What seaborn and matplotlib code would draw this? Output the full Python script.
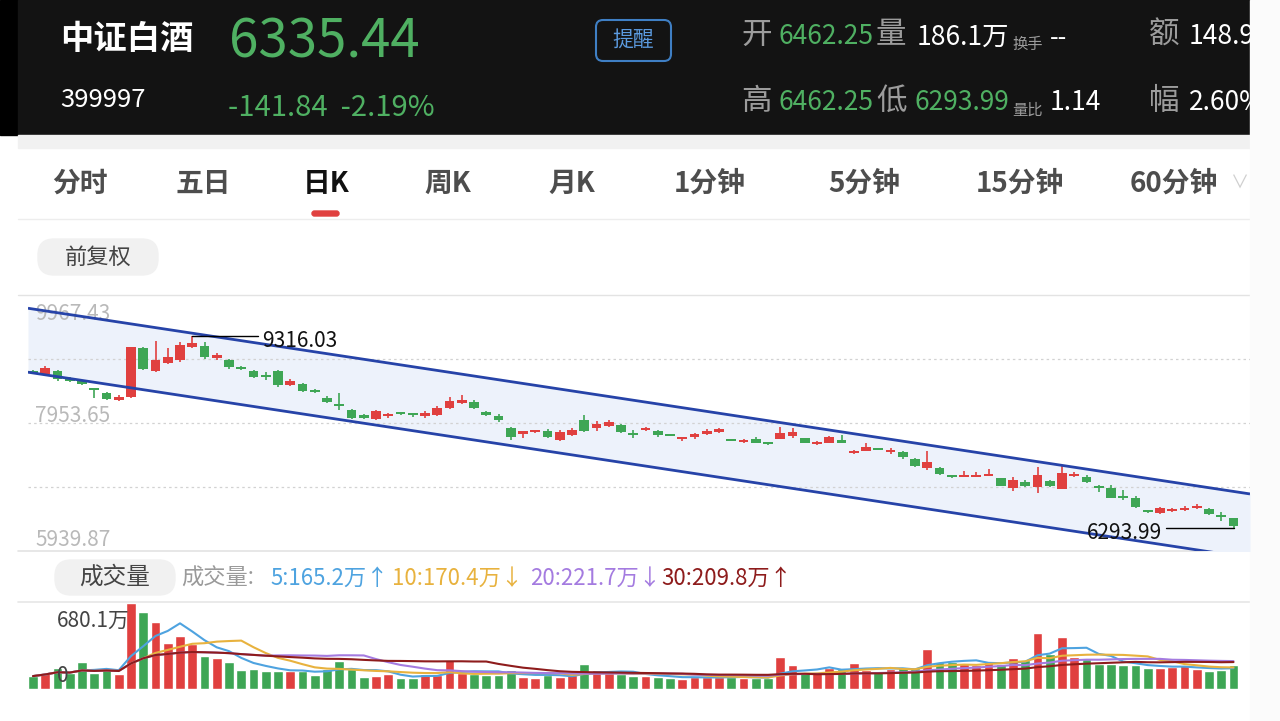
import numpy as np
import pandas as pd
import matplotlib
matplotlib.use("Agg")
import matplotlib.pyplot as plt
import seaborn as sns
from matplotlib.patches import Rectangle, FancyBboxPatch

# ---------------- data ----------------
opens = [8772, 8725, 8772, 8662, 8614, 8504, 8426, 8315, 8363, 9134,
         8772, 8898, 8945, 9149, 9165, 8976, 8945, 8835, 8772, 8709,
         8772, 8551, 8567, 8473, 8347, 8252, 8158, 8079, 8016, 8064,
         8127, 8111, 8064, 8079, 8189, 8268, 8284, 8127, 8064, 7875,
         7797, 7812, 7828, 7686, 7765, 8001, 7875, 7906, 7922, 7797,
         7844, 7828, 7781, 7702, 7733, 7781, 7812, 7702, 7655, 7702,
         7655, 7702, 7749, 7718, 7623, 7639, 7686, 7482, 7513, 7560,
         7498, 7498, 7387, 7246, 7246, 7135, 7104, 7104, 7120, 7088,
         6931, 7025, 6947, 7041, 6915, 7120, 7104, 6962, 6931, 6805,
         6774, 6585, 6538, 6569, 6585, 6617, 6601, 6507, 6462.25]
highs = [8788, 8850, 8788, 8678, 8630, 8504, 8441, 8394, 9149, 9149,
         9244, 9134, 9228, 9316.03, 9228, 9055, 8960, 8850, 8788, 8756,
         8788, 8646, 8583, 8488, 8378, 8426, 8174, 8095, 8158, 8111,
         8127, 8111, 8142, 8221, 8363, 8394, 8315, 8142, 8095, 7891,
         7812, 7844, 7859, 7844, 7875, 8079, 7985, 8001, 7938, 7844,
         7891, 7844, 7781, 7733, 7797, 7859, 7875, 7702, 7702, 7733,
         7655, 7891, 7875, 7718, 7670, 7749, 7765, 7529, 7639, 7560,
         7560, 7513, 7403, 7513, 7261, 7135, 7198, 7183, 7230, 7088,
         7104, 7057, 7261, 7057, 7293, 7183, 7135, 6978, 6978, 6900,
         6805, 6585, 6632, 6617, 6648, 6679, 6617, 6554, 6462.25]
lows = [8725, 8693, 8614, 8599, 8551, 8347, 8315, 8300, 8347, 8788,
        8756, 8882, 8913, 9134, 8960, 8945, 8803, 8788, 8662, 8630,
        8520, 8536, 8441, 8426, 8268, 8158, 8016, 8016, 8001, 8032,
        8079, 8048, 8032, 8064, 8174, 8252, 8174, 8064, 7969, 7686,
        7718, 7797, 7718, 7670, 7749, 7812, 7828, 7891, 7797, 7718,
        7828, 7733, 7749, 7670, 7702, 7765, 7797, 7670, 7639, 7639,
        7607, 7702, 7718, 7639, 7607, 7639, 7639, 7466, 7513, 7529,
        7466, 7387, 7261, 7214, 7135, 7088, 7104, 7104, 7120, 6962,
        6884, 6947, 6852, 6947, 6915, 7104, 7010, 6868, 6774, 6742,
        6617, 6538, 6522, 6554, 6569, 6601, 6507, 6412, 6293.99]
closes = [8741, 8819, 8646, 8614, 8567, 8473, 8331, 8363, 9149, 8803,
          8945, 8992, 9181, 9212, 8992, 9023, 8835, 8803, 8678, 8678,
          8551, 8614, 8457, 8441, 8284, 8221, 8032, 8032, 8142, 8095,
          8095, 8079, 8111, 8189, 8300, 8315, 8189, 8079, 8001, 7733,
          7812, 7844, 7733, 7812, 7844, 7828, 7938, 7969, 7812, 7765,
          7875, 7765, 7749, 7733, 7781, 7828, 7859, 7670, 7686, 7639,
          7623, 7797, 7812, 7639, 7655, 7733, 7639, 7513, 7576, 7529,
          7529, 7419, 7277, 7340, 7151, 7104, 7135, 7135, 7151, 6962,
          7057, 6962, 7135, 6962, 7167, 7151, 7025, 6931, 6774, 6774,
          6632, 6554, 6617, 6601, 6617, 6648, 6522, 6477.28, 6335.44]
volumes = [102, 128, 167, 123, 215, 123, 167, 115, 680.1, 607,
           528, 366, 416, 358, 262, 246, 215, 149, 157, 146,
           146, 141, 141, 110, 162, 222, 162, 94, 105, 115,
           89, 89, 115, 110, 233, 128, 115, 110, 110, 152,
           97, 89, 110, 97, 110, 194, 149, 123, 117, 100,
           105, 97, 89, 78, 97, 97, 97, 97, 89, 84,
           84, 254, 188, 123, 123, 167, 162, 209, 149, 136,
           157, 167, 167, 314, 215, 215, 201, 188, 215, 201,
           246, 228, 445, 280, 411, 254, 241, 201, 201, 188,
           188, 167, 167, 175, 188, 157, 141, 149, 186.1]

y_ticks = [9967.43, 7953.65, 5939.87]
vol_max_label = "680.1万"
ma_windows = [5, 10, 20, 30]
ma_labels = ["5:165.2万↑", "10:170.4万↓", "20:221.7万↓", "30:209.8万↑"]
channel_upper = [9747, 6877]   # channel value at first / last candle
channel_lower = [8741, 5870]
tabs = ["分时", "五日", "日K", "周K", "月K", "1分钟", "5分钟", "15分钟", "60分钟"]

# ---------------- style ----------------
RED = "#e0403f"
GREEN = "#3ea655"
HGREEN = "#4fb062"
MA_COLORS = ["#4ea3e0", "#e8b23e", "#a47be0", "#8e1c1c"]

sns.set_theme(style="white")
plt.rcParams["font.family"] = ["Noto Sans CJK SC", "DejaVu Sans"]
plt.rcParams["axes.unicode_minus"] = False

W, H = 1280, 721
fig = plt.figure(figsize=(12.8, 7.21), dpi=100)
fig.patch.set_facecolor("white")


def fa(x0, y0, x1, y1):
    return [x0 / W, 1 - y1 / H, (x1 - x0) / W, (y1 - y0) / H]


bg = fig.add_axes([0, 0, 1, 1])
bg.set_xlim(0, W)
bg.set_ylim(H, 0)
bg.axis("off")

# header
bg.add_patch(Rectangle((0, 0), 18, 135, color="black", zorder=0))
bg.add_patch(Rectangle((18, 0), 1232, 135, color="#131313", zorder=0))
bg.add_patch(Rectangle((18, 135), 1232, 13, color="#f1f1f1", zorder=0))


def t(x, y, s, size, color, weight="normal", ha="left", **kw):
    bg.text(x, y, s, fontsize=size, color=color, fontweight=weight, ha=ha, va="center", **kw)


t(60, 40, "中证白酒", 24, "white", "bold")
t(229, 42, "6335.44", 38, HGREEN)
t(60, 100, "399997", 18.5, "white")
t(228, 108, "-141.84  -2.19%", 21, HGREEN)

bg.add_patch(FancyBboxPatch((596, 20), 75, 41, boxstyle="round,pad=0,rounding_size=7",
                            fc="none", ec="#3f7fc4", lw=1.5, zorder=2))
t(633, 40, "提醒", 15, "#5c9be0", ha="center")

GRAY = "#9c9c9c"
t(741, 35, "开", 22, GRAY)
t(779, 37, "6462.25", 19, HGREEN)
t(876, 35, "量", 22, GRAY)
t(917, 37, "186.1万", 19, "white")
t(1012, 44, "换手", 11, GRAY)
t(1050, 38, "--", 18, "white")
t(1149, 35, "额", 22, GRAY)
t(1189, 37, "148.9", 19, "white")
t(741, 101, "高", 22, GRAY)
t(779, 103, "6462.25", 19, HGREEN)
t(876, 101, "低", 22, GRAY)
t(914, 103, "6293.99", 19, HGREEN)
t(1012, 110, "量比", 11, GRAY)
t(1050, 103, "1.14", 19, "white")
t(1149, 101, "幅", 22, GRAY)
t(1189, 103, "2.60%", 19, "white")

# tabs
tab_x = [80, 203, 326, 448, 572, 710, 864, 1020, 1174]
for s, x in zip(tabs, tab_x):
    if s == "日K":
        t(x, 184, s, 20, "#111111", "bold", ha="center")
    else:
        t(x, 184, s, 20, "#4d4d4d", "bold", ha="center")
t(1240, 184, "∨", 13, "#cfcfcf", ha="center")
bg.add_patch(FancyBboxPatch((312, 211), 27, 5, boxstyle="round,pad=0,rounding_size=2.5",
                            color=RED, zorder=2))
bg.plot([18, 1250], [218.5, 218.5], color="#ededed", lw=1)

bg.add_patch(FancyBboxPatch((38, 239), 120, 36, boxstyle="round,pad=0,rounding_size=16",
                            color="#f1f1f1", zorder=1))
t(98, 257, "前复权", 16, "#444444", ha="center")

# panel borders
bg.plot([18, 1250], [295, 295], color="#e3e3e3", lw=1)
bg.plot([18, 1250], [551, 551], color="#e3e3e3", lw=1.2)
bg.plot([18, 1250], [602, 602], color="#e6e6e6", lw=1.2)

# volume legend row
bg.add_patch(FancyBboxPatch((55, 560), 120, 35, boxstyle="round,pad=0,rounding_size=16",
                            color="#f1f1f1", zorder=1))
t(115, 577, "成交量", 17, "#444444", ha="center")
t(181, 578, "成交量:", 16, "#9a9a9a")
for s, x, c in zip(ma_labels, [270, 392, 530, 661], MA_COLORS):
    t(x, 578, s, 16, c)

# ---------------- price panel ----------------
n = len(closes)
idx = np.arange(n)
o = np.array(opens, float)
c = np.array(closes, float)
hi = np.array(highs, float)
lo = np.array(lows, float)
up = c >= o
colors = np.where(up, RED, GREEN)

step = 12.25
x_first = 33
xl = (28 - x_first) / step
xr = (1250 - x_first) / step

axp = fig.add_axes(fa(28, 295, 1250, 551))
axp.set_xlim(xl, xr)
axp.set_ylim(y_ticks[2], y_ticks[0])
axp.axis("off")

xs = np.array([xl, xr])


def chan(v):
    slope = (v[1] - v[0]) / (n - 1)
    return v[0] + slope * xs


cu, cl = chan(channel_upper), chan(channel_lower)
axp.fill_between(xs, cl, cu, color="#edf2fb", zorder=0, lw=0)

span = y_ticks[0] - y_ticks[2]
for v in [y_ticks[0] - span / 4, y_ticks[1], y_ticks[2] + span / 4]:
    axp.axhline(v, color="#d2d2d2", lw=0.9, ls=(0, (2, 2.5)), zorder=0.5)

axp.vlines(idx, lo, hi, colors=colors, lw=1.2, zorder=2)
min_h = span / 256 * 2.5
body_bot = np.minimum(o, c)
body_h = np.maximum(np.abs(c - o), min_h)
axp.bar(idx, body_h, bottom=body_bot - (body_h - np.abs(c - o)) / 2, width=0.8,
        color=colors, zorder=3, lw=0)

axp.plot(xs, cu, color="#2643a8", lw=2, zorder=4, solid_capstyle="butt")
axp.plot(xs, cl, color="#2643a8", lw=2, zorder=4, solid_capstyle="butt")

# y labels
ytr = axp.get_yaxis_transform()
axp.annotate(f"{y_ticks[0]:.2f}", (0.006, y_ticks[0]), xycoords=ytr, xytext=(0, -6),
             textcoords="offset points", fontsize=15, color="#b9b9b9", va="top", ha="left", zorder=1)
axp.annotate(f"{y_ticks[1]:.2f}", (0.006, y_ticks[1]), xycoords=ytr, xytext=(0, -3),
             textcoords="offset points", fontsize=15, color="#b9b9b9", va="bottom", ha="left", zorder=1)
axp.annotate(f"{y_ticks[2]:.2f}", (0.006, y_ticks[2]), xycoords=ytr, xytext=(0, 0),
             textcoords="offset points", fontsize=15, color="#b9b9b9", va="bottom", ha="left", zorder=1)

# max / min annotations
imax = int(np.argmax(hi))
imin = int(np.argmin(lo))
axp.plot([imax, imax + 5.4], [hi[imax]] * 2, color="black", lw=1, zorder=5)
axp.annotate(f"{hi[imax]:.2f}", (imax + 5.7, hi[imax]), xytext=(0, -3), textcoords="offset points",
             fontsize=15, color="#111111", va="center", ha="left", zorder=5)
axp.plot([imin - 5.5, imin], [lo[imin]] * 2, color="black", lw=1, zorder=5)
axp.annotate(f"{lo[imin]:.2f}", (imin - 5.8, lo[imin]), xytext=(0, -3), textcoords="offset points",
             fontsize=15, color="#111111", va="center", ha="right", zorder=5)

# ---------------- volume panel ----------------
axv = fig.add_axes(fa(28, 603, 1250, 689))
df = pd.DataFrame({"i": idx, "vol": volumes, "dir": np.where(up, "up", "down")})
sns.barplot(data=df, x="i", y="vol", hue="dir", palette={"up": RED, "down": GREEN},
            dodge=False, width=0.8, saturation=1, legend=False, ax=axv, zorder=1)
vol = pd.Series(volumes, dtype=float)
for w, col in zip(ma_windows, MA_COLORS):
    ma = vol.rolling(w, min_periods=1).mean()
    sns.lineplot(x=idx, y=ma.values, color=col, lw=1.5, ax=axv, zorder=3)
axv.set_xlim(xl, xr)
axv.set_ylim(0, max(volumes))
axv.axis("off")

fig.text(57 / W, 1 - 621 / H, vol_max_label, fontsize=15, color="#444444", va="center", ha="left", zorder=6)
fig.text(57 / W, 1 - 676 / H, "0", fontsize=15, color="#444444", va="center", ha="left", zorder=6)

# right edge strip
bg.add_patch(Rectangle((1250, 0), 30, H, color="#fbfbfb", zorder=20))

fig.savefig("out.png", dpi=100, facecolor="white")
